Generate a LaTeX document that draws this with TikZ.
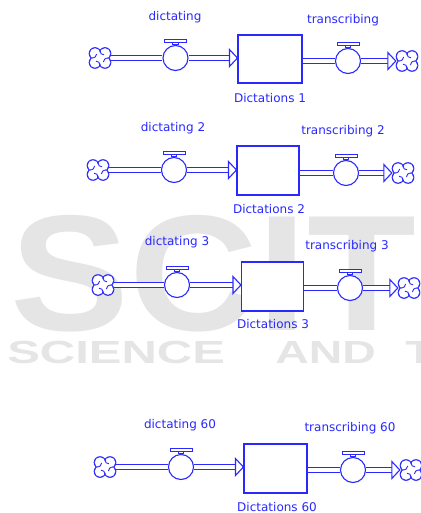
\documentclass[tikz,border=0pt]{standalone}
\usepackage{fontspec}
\setmainfont{DejaVu Sans}
\newfontfamily\wmfont{Liberation Sans}
\usetikzlibrary{calc}
\definecolor{sdblue}{RGB}{40,40,255}
\definecolor{wmgray}{RGB}{229,229,229}
\pgfdeclarelayer{wm}
\pgfdeclarelayer{bg}
\pgfsetlayers{wm,bg,main}
\tikzset{
  pipe/.style={draw=sdblue, line width=1.1pt, double=white, double distance=4.6pt},
  valve/.style={circle, draw=sdblue, fill=white, line width=1.1pt, minimum size=25pt, inner sep=0pt},
  stock/.style={rectangle, draw=sdblue, fill=white, line width=1.1pt, minimum width=63pt, minimum height=48pt, inner sep=0pt},
  cloudnode/.style={rectangle, minimum width=22pt, minimum height=20pt, inner sep=0pt},
  lbl/.style={text=sdblue, font=\fontsize{12}{14}\selectfont, inner sep=0pt},
  wmtext/.style={text=wmgray, inner sep=0pt, anchor=base west},
  handle/.pic={
    \draw[draw=sdblue, fill=white, line width=1pt] (-2.6,0) rectangle (2.6,-2.8);
    \draw[draw=sdblue, fill=white, line width=1pt] (-11,-2.8) rectangle (11,-5.8);
  },
  flowtip/.pic={
    \draw[draw=sdblue, fill=white, line width=1.1pt, line join=miter] (0,0) -- (-8,-8.5) -- (-8,8.5) -- cycle;
  },
  cloudsym/.pic={
    \fill[sdblue] (-5,-4.5) circle (6.35) (5,-4.5) circle (6.35) (-5,4.5) circle (6.35) (5,4.5) circle (6.35);
    \fill[white] (-5,-4.5) circle (5.25) (5,-4.5) circle (5.25) (-5,4.5) circle (5.25) (5,4.5) circle (5.25);
    \fill[white] (-5,-4.5) rectangle (5,4.5);
    \draw[sdblue, line width=0.9pt]
      (0,7.4) .. controls (0,4.6) and (-1.5,3.2) .. (-4,3.2)
      (-8.6,0) .. controls (-5.2,0) and (-3.4,-1.5) .. (-3.4,-4)
      (0,-7.4) .. controls (0,-4.6) and (1.5,-3.2) .. (4,-3.2)
      (8.6,0) .. controls (5.2,0) and (3.4,1.5) .. (3.4,4);
  }
}
\begin{document}
\begin{tikzpicture}[x=1pt, y=-1pt]
\useasboundingbox (0,0) rectangle (420,513);

% watermark
\begin{pgfonlayer}{wm}
\begin{scope}
\clip (0,0) rectangle (420,513);
\node[wmtext, font=\wmfont\bfseries\fontsize{165}{165}\selectfont, xscale=1.08] (wmlogo) at (10,330) {SCIT};
\node[wmtext, font=\wmfont\bfseries\fontsize{32}{32}\selectfont, xscale=1.53] (wmsci) at (7,363) {SCIENCE};
\node[wmtext, font=\wmfont\bfseries\fontsize{32}{32}\selectfont, xscale=1.45] (wmand) at (275,363) {AND};
\node[wmtext, font=\wmfont\bfseries\fontsize{32}{32}\selectfont, xscale=1.45] (wmtech) at (405,363) {TECHNOLOGY};
\end{scope}
\end{pgfonlayer}

% ---------- row 1
\node[cloudnode] (cL1) at (100,58) {}; \pic at (cL1) {cloudsym};
\node[valve] (vi1) at (175.5,58) {}; \pic at (vi1.north) {handle};
\node[stock, minimum width=64pt] (s1) at (270,59) {};
\node[valve] (vo1) at (348,61) {}; \pic at (vo1.north) {handle};
\node[cloudnode] (cR1) at (407,61) {}; \pic at (cR1) {cloudsym};
\coordinate (ti1) at (s1.west |- vi1);
\coordinate (to1) at (cR1.west |- vo1);
\pic at (ti1) {flowtip}; \pic at (to1) {flowtip};
\node[lbl] (ld1) at (175,17) {dictating};
\node[lbl] (lt1) at (343,20) {transcribing};
\node[lbl] (ls1) at (270,98) {Dictations 1};

% ---------- row 2
\node[cloudnode] (cL2) at (98,170) {}; \pic at (cL2) {cloudsym};
\node[valve] (vi2) at (174,170) {}; \pic at (vi2.north) {handle};
\node[stock, minimum width=62pt, minimum height=49pt] (s2) at (268,170.5) {};
\node[valve] (vo2) at (346,173) {}; \pic at (vo2.north) {handle};
\node[cloudnode] (cR2) at (403,173) {}; \pic at (cR2) {cloudsym};
\coordinate (ti2) at (s2.west |- vi2);
\coordinate (to2) at (cR2.west |- vo2);
\pic at (ti2) {flowtip}; \pic at (to2) {flowtip};
\node[lbl] (ld2) at (173,128) {dictating 2};
\node[lbl] (lt2) at (343,131) {transcribing 2};
\node[lbl] (ls2) at (269,209) {Dictations 2};

% ---------- row 3
\node[cloudnode] (cL3) at (103,285) {}; \pic at (cL3) {cloudsym};
\node[valve] (vi3) at (177,285) {}; \pic at (vi3.north) {handle};
\node[stock, minimum width=62pt, minimum height=49pt] (s3) at (272.5,286.5) {};
\node[valve] (vo3) at (350,288) {}; \pic at (vo3.north) {handle};
\node[cloudnode] (cR3) at (409,288) {}; \pic at (cR3) {cloudsym};
\coordinate (ti3) at (s3.west |- vi3);
\coordinate (to3) at (cR3.west |- vo3);
\pic at (ti3) {flowtip}; \pic at (to3) {flowtip};
\node[lbl] (ld3) at (177,242) {dictating 3};
\node[lbl] (lt3) at (347,246) {transcribing 3};
\node[lbl] (ls3) at (273,324.5) {Dictations 3};

% ---------- row 4
\node[cloudnode] (cL4) at (105,467) {}; \pic at (cL4) {cloudsym};
\node[valve] (vi4) at (181,467) {}; \pic at (vi4.north) {handle};
\node[stock, minimum width=63pt, minimum height=49pt] (s4) at (275.5,468.5) {};
\node[valve] (vo4) at (353,470) {}; \pic at (vo4.north) {handle};
\node[cloudnode] (cR4) at (411,470) {}; \pic at (cR4) {cloudsym};
\coordinate (ti4) at (s4.west |- vi4);
\coordinate (to4) at (cR4.west |- vo4);
\pic at (ti4) {flowtip}; \pic at (to4) {flowtip};
\node[lbl] (ld4) at (180,425) {dictating 60};
\node[lbl] (lt4) at (350,428) {transcribing 60};
\node[lbl] (ls4) at (277,506.7) {Dictations 60};

% ---------- pipes (behind)
\begin{pgfonlayer}{bg}
\foreach \i in {1,2,3,4}{
  \draw[pipe] (cL\i.center) -- (vi\i) -- ([xshift=-8pt]ti\i);
  \draw[pipe] (s\i.center |- vo\i) -- (vo\i) -- ([xshift=-8pt]to\i);
}
\end{pgfonlayer}
\end{tikzpicture}
\end{document}
